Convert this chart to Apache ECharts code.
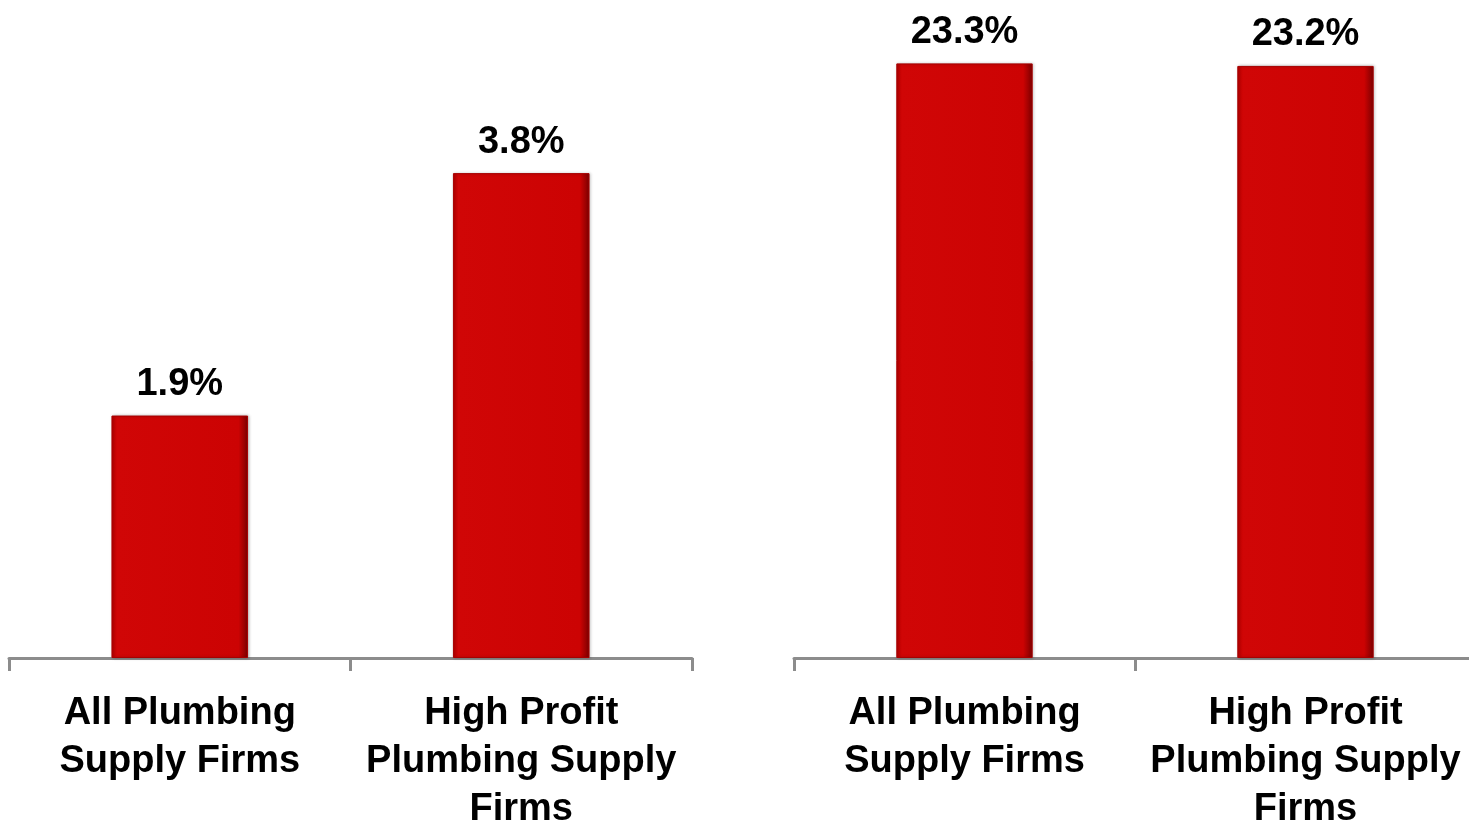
<!DOCTYPE html>
<html>
<head>
<meta charset="utf-8">
<script src="https://cdn.jsdelivr.net/npm/echarts@6/dist/echarts.min.js"></script>
<style>
  html, body { margin: 0; padding: 0; background: #ffffff; }
  #chart { width: 1469px; height: 825px; }
</style>
</head>
<body>
<div id="chart"></div>
<script>
// Category names shared by both panels
const categories = ['All Plumbing\nSupply Firms', 'High Profit\nPlumbing Supply\nFirms'];
// Left panel values (%)
const leftValues = [1.9, 3.8];
// Right panel values (%)
const rightValues = [23.3, 23.2];

const FONT = '"Liberation Sans", Arial, sans-serif';

// Bevelled red fill: lighter body, dark right edge
const barFill = {
  type: 'linear', x: 0, y: 0, x2: 1, y2: 0,
  colorStops: [
    { offset: 0, color: '#b80000' },
    { offset: 0.04, color: '#d00606' },
    { offset: 0.93, color: '#cc0303' },
    { offset: 1, color: '#7a0000' }
  ]
};

function barSeries(values, axisIndex) {
  return {
    type: 'bar',
    xAxisIndex: axisIndex,
    yAxisIndex: axisIndex,
    data: values,
    barWidth: '40%',
    itemStyle: {
      color: barFill,
      borderColor: '#a80000',
      borderWidth: 1,
      shadowColor: 'rgba(0,0,0,0.25)',
      shadowBlur: 3,
      shadowOffsetX: 1,
      shadowOffsetY: 0
    },
    label: {
      show: true,
      position: 'top',
      distance: 12,
      formatter: p => p.value.toFixed(1) + '%',
      fontFamily: FONT,
      fontWeight: 'bold',
      fontSize: 38,
      color: '#000'
    }
  };
}

function xAxisFor(gridIndex) {
  return {
    type: 'category',
    gridIndex: gridIndex,
    data: categories,
    axisLine: { show: true, lineStyle: { color: '#8c8c8c', width: 3 } },
    axisTick: { show: true, length: 13, lineStyle: { color: '#8c8c8c', width: 3 } },
    axisLabel: {
      interval: 0,
      margin: 32,
      fontFamily: FONT,
      fontWeight: 'bold',
      fontSize: 38,
      lineHeight: 48,
      color: '#000',
      align: 'center'
    }
  };
}

function yAxisFor(gridIndex, max) {
  return {
    type: 'value',
    gridIndex: gridIndex,
    min: 0,
    max: max,
    show: false,
    splitLine: { show: false }
  };
}

const chart = echarts.init(document.getElementById('chart'), null, { renderer: 'canvas' });
chart.setOption({
  animation: false,
  backgroundColor: '#ffffff',
  grid: [
    { left: 9, width: 683, top: 20, bottom: 167, containLabel: false, outerBoundsMode: 'none' },
    { left: 794, width: 682, top: 20, bottom: 167, containLabel: false, outerBoundsMode: 'none' }
  ],
  xAxis: [xAxisFor(0), xAxisFor(1)],
  yAxis: [yAxisFor(0, 5), yAxisFor(1, 25)],
  series: [barSeries(leftValues, 0), barSeries(rightValues, 1)]
});
</script>
</body>
</html>
